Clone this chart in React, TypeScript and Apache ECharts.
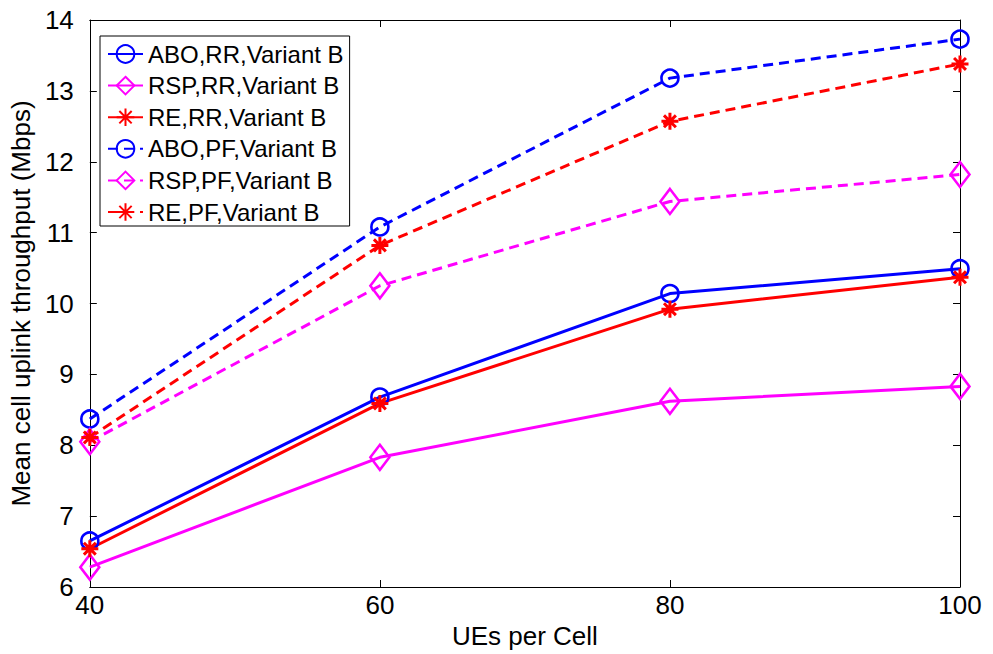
import React, { useEffect, useRef } from "react";
import * as echarts from "echarts";

// UEs per cell (x axis)
const uesPerCell = [40, 60, 80, 100];

// Mean cell uplink throughput (Mbps)
const aboRR = [6.65, 8.68, 10.14, 10.49];
const rspRR = [6.28, 7.83, 8.62, 8.83];
const reRR = [6.54, 8.59, 9.92, 10.37];
const aboPF = [8.37, 11.08, 13.18, 13.73];
const rspPF = [8.05, 10.25, 11.44, 11.82];
const rePF = [8.11, 10.82, 12.57, 13.38];

const seriesNames = [
  "ABO,RR,Variant B",
  "RSP,RR,Variant B",
  "RE,RR,Variant B",
  "ABO,PF,Variant B",
  "RSP,PF,Variant B",
  "RE,PF,Variant B",
];

const FONT = "'Liberation Sans', Arial, sans-serif";
const ASTERISK =
  "path://M0,-10L0,10M-10,0L10,0M-7,-7L7,7M-7,7L7,-7";

type Marker = "circle" | "diamond" | "asterisk";

function makeSeries(
  name: string,
  values: number[],
  color: string,
  marker: Marker,
  dashed: boolean
) {
  let symbol = "circle";
  let symbolSize: number | number[] = 17;
  if (marker === "diamond") {
    symbol = "diamond";
    symbolSize = [19, 25];
  } else if (marker === "asterisk") {
    symbol = ASTERISK;
    symbolSize = 17;
  }
  return {
    name,
    type: "line",
    data: uesPerCell.map((x, i) => [x, values[i]]),
    symbol,
    symbolSize,
    showAllSymbol: true,
    itemStyle: {
      color: "rgba(0,0,0,0)",
      borderColor: color,
      borderWidth: marker === "asterisk" ? 3 : 2.6,
    },
    lineStyle: {
      color,
      width: 3,
      type: dashed ? [10, 6] : "solid",
    },
    emphasis: { disabled: true },
  };
}

export default function App() {
  const ref = useRef<HTMLDivElement>(null);

  useEffect(() => {
    if (!ref.current) return;
    const chart = echarts.init(ref.current, undefined, { renderer: "svg" });

    const axisLine = { show: true, lineStyle: { color: "#000", width: 1 } };
    const tick = {
      show: true,
      inside: true,
      length: 7,
      lineStyle: { color: "#000", width: 1 },
    };

    chart.setOption({
      animation: false,
      backgroundColor: "#fff",
      textStyle: { fontFamily: FONT },
      grid: { left: 82, right: 33, top: 20, bottom: 66, containLabel: false },
      legend: {
        orient: "vertical",
        left: 100,
        top: 36,
        data: seriesNames,
        itemWidth: 35,
        itemHeight: 22,
        itemGap: 7.6,
        padding: [6, 6, 2, 7],
        borderColor: "#000",
        borderWidth: 1,
        backgroundColor: "#fff",
        selectedMode: false,
        textStyle: {
          fontFamily: FONT,
          fontSize: 24,
          lineHeight: 24,
          color: "#000",
        },
      },
      xAxis: [
        {
          type: "value",
          min: 40,
          max: 100,
          interval: 20,
          position: "bottom",
          name: "UEs per Cell",
          nameLocation: "middle",
          nameGap: 36,
          nameTextStyle: { fontFamily: FONT, fontSize: 26, color: "#000" },
          axisLine,
          axisTick: tick,
          axisLabel: {
            fontFamily: FONT,
            fontSize: 26,
            color: "#000",
            margin: 5,
          },
          splitLine: { show: false },
        },
        {
          type: "value",
          min: 40,
          max: 100,
          interval: 20,
          position: "top",
          axisLine,
          axisTick: tick,
          axisLabel: { show: false },
          splitLine: { show: false },
        },
      ],
      yAxis: [
        {
          type: "value",
          min: 6,
          max: 14,
          interval: 1,
          position: "left",
          name: "Mean cell uplink throughput (Mbps)",
          nameLocation: "middle",
          nameGap: 46,
          nameTextStyle: { fontFamily: FONT, fontSize: 26, color: "#000" },
          axisLine,
          axisTick: tick,
          axisLabel: {
            fontFamily: FONT,
            fontSize: 26,
            color: "#000",
            margin: 16,
          },
          splitLine: { show: false },
        },
        {
          type: "value",
          min: 6,
          max: 14,
          interval: 1,
          position: "right",
          axisLine,
          axisTick: tick,
          axisLabel: { show: false },
          splitLine: { show: false },
        },
      ],
      series: [
        makeSeries(seriesNames[0], aboRR, "#0000ff", "circle", false),
        makeSeries(seriesNames[1], rspRR, "#ff00ff", "diamond", false),
        makeSeries(seriesNames[2], reRR, "#ff0000", "asterisk", false),
        makeSeries(seriesNames[3], aboPF, "#0000ff", "circle", true),
        makeSeries(seriesNames[4], rspPF, "#ff00ff", "diamond", true),
        makeSeries(seriesNames[5], rePF, "#ff0000", "asterisk", true),
      ],
    });

    return () => chart.dispose();
  }, []);

  return (
    <div
      ref={ref}
      style={{
        position: "fixed",
        left: 0,
        top: 0,
        width: 993,
        height: 654,
        background: "#fff",
      }}
    />
  );
}
